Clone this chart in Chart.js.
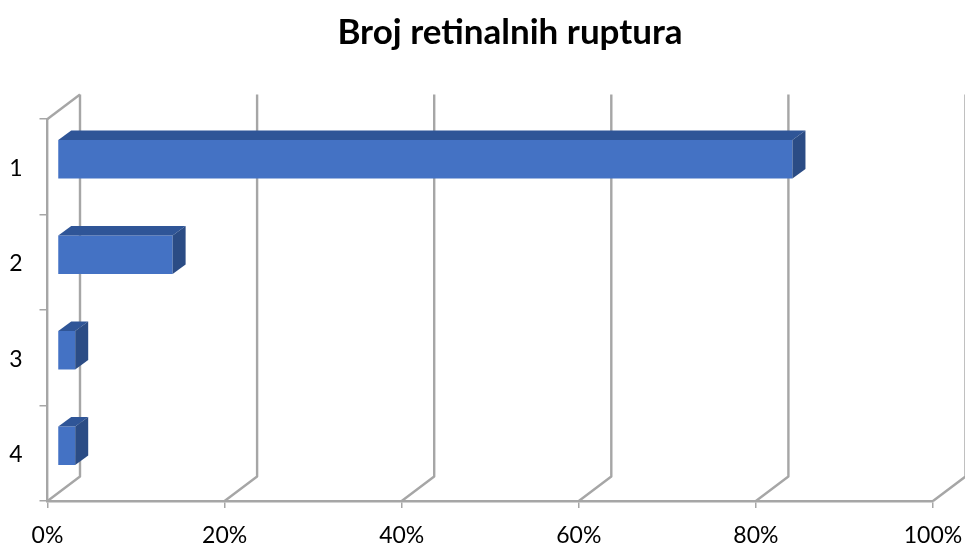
<!DOCTYPE html>
<html><head><meta charset="utf-8">
<style>html,body{margin:0;padding:0;background:#fff}canvas{display:block}</style>
<script src="https://cdn.jsdelivr.net/npm/chart.js@4"></script>
</head><body>
<canvas id="c" width="965" height="546"></canvas>
<script>
const categories = ['1', '2', '3', '4'];
const percentValues = [83, 13, 2, 2];
const chartTitle = 'Broj retinalnih ruptura';
const tickStep = 20;
const axisMax = 100;

const gray = '#a6a6a6';
const wall = {dx: 32.5, dy: -24.5};
const barShift = {dx: 10, dy: -7.5};
const barDepth = {dx: 13, dy: -9.5};
const fontFamily = 'Lato, "Open Sans", sans-serif';

const pseudo3d = {
  id: 'pseudo3d',
  afterLayout(chart) { chart.titleBlock.left = 87; },
  beforeDatasetsDraw(chart) {
    const {ctx, chartArea: a, scales: {x}} = chart;
    ctx.save();
    ctx.strokeStyle = gray;
    ctx.lineWidth = 2.4;
    ctx.lineJoin = 'round';
    x.ticks.forEach(t => {
      const px = x.getPixelForValue(t.value);
      ctx.beginPath();
      ctx.moveTo(px, a.bottom);
      ctx.lineTo(px + wall.dx, a.bottom + wall.dy);
      ctx.lineTo(px + wall.dx, a.top + wall.dy);
      ctx.stroke();
    });
    const p0 = x.getPixelForValue(0);
    ctx.beginPath();
    ctx.moveTo(p0, a.top);
    ctx.lineTo(p0 + wall.dx, a.top + wall.dy);
    ctx.stroke();
    ctx.restore();
    ctx.save();
    ctx.translate(barShift.dx, barShift.dy);
  },
  afterDatasetsDraw(chart) {
    const {ctx} = chart;
    chart.getDatasetMeta(0).data.forEach(b => {
      const p = b.getProps(['x', 'y', 'base', 'height'], true);
      const t = p.y - p.height / 2, u = p.y + p.height / 2;
      ctx.fillStyle = '#2f5597';
      ctx.beginPath();
      ctx.moveTo(p.base, t);
      ctx.lineTo(p.base + barDepth.dx, t + barDepth.dy);
      ctx.lineTo(p.x + barDepth.dx, t + barDepth.dy);
      ctx.lineTo(p.x, t);
      ctx.closePath();
      ctx.fill();
      ctx.fillStyle = '#2b4c85';
      ctx.beginPath();
      ctx.moveTo(p.x, t);
      ctx.lineTo(p.x + barDepth.dx, t + barDepth.dy);
      ctx.lineTo(p.x + barDepth.dx, u + barDepth.dy);
      ctx.lineTo(p.x, u);
      ctx.closePath();
      ctx.fill();
    });
    ctx.restore();
  }
};

new Chart(document.getElementById('c'), {
  type: 'bar',
  plugins: [pseudo3d],
  data: {
    labels: categories,
    datasets: [{
      data: percentValues,
      backgroundColor: '#4472c4',
      borderWidth: 0,
      categoryPercentage: 1,
      barPercentage: 0.403,
      clip: false
    }]
  },
  options: {
    indexAxis: 'y',
    responsive: false,
    animation: false,
    layout: {padding: {top: 0, right: 32, bottom: 0, left: 0}},
    plugins: {
      legend: {display: false},
      tooltip: {enabled: false},
      title: {
        display: true,
        text: chartTitle,
        color: '#000',
        font: {family: fontFamily, size: 35, weight: 'bold', lineHeight: 1.2},
        padding: {top: 12, bottom: 65}
      }
    },
    scales: {
      x: {
        min: 0,
        max: axisMax,
        afterFit(s) { s.height = 45; s.paddingRight = 0; s.paddingLeft = 0; },
        border: {color: gray, width: 2.4},
        grid: {drawOnChartArea: false, color: gray, lineWidth: 1.5, tickLength: 7},
        ticks: {stepSize: tickStep, maxRotation: 0, color: '#000', padding: 14,
                font: {family: fontFamily, size: 23},
                callback: v => v + '%'}
      },
      y: {
        afterFit(s) { s.width = 47.5; },
        border: {color: gray, width: 2.4},
        grid: {drawOnChartArea: false, color: gray, lineWidth: 1.5, tickLength: 8, offset: true},
        ticks: {color: '#000', padding: 17, labelOffset: 1.5, font: {family: fontFamily, size: 23}}
      }
    }
  }
});
</script>
</body></html>
